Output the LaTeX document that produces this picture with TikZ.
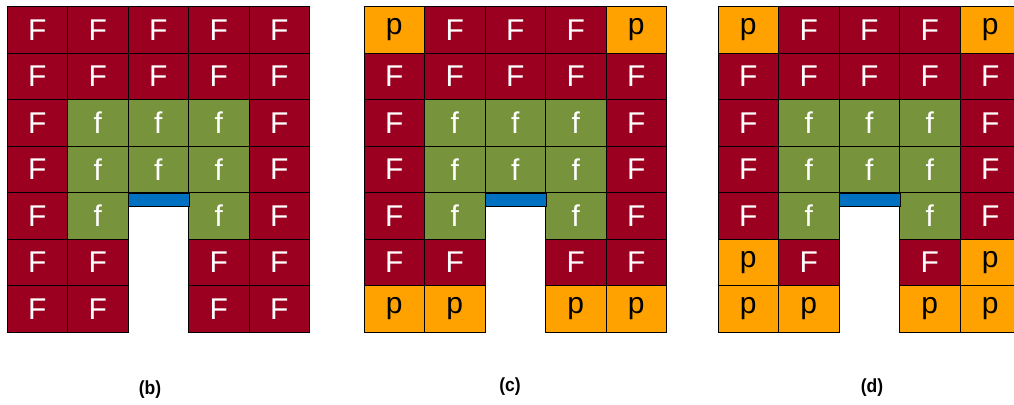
\documentclass[tikz,border=0pt]{standalone}
\usepackage{fontspec}
\setmainfont{Liberation Sans}
\newfontfamily\capfont{Liberation Sans}[FakeStretch=0.92]
\definecolor{cellred}{HTML}{9B0020}
\definecolor{cellgreen}{HTML}{77933C}
\definecolor{cellorange}{HTML}{FFA200}
\definecolor{gapblue}{HTML}{0070C0}

% one square of a grid: grid name, left edge, column, row, letter (x = no square)
\newcommand\putcell[5]{%
 \if#5x\else
  \node[cell#5] (#1_#4_#3) at ({#2+(#3-0.5)*60.5},{6.5+(#4-0.5)*46.5}) {#5};
 \fi}

\begin{document}
\begin{tikzpicture}[x=1pt,y=-1pt,
  cell/.style={draw=black,line width=0.9pt,inner sep=0pt,
    minimum width=60.5pt,minimum height=46.5pt,
    font=\fontsize{30}{30}\selectfont},
  cellF/.style={cell,fill=cellred,text=white},
  cellf/.style={cell,fill=cellgreen,text=white},
  cellp/.style={cell,fill=cellorange,text=black},
  gapbar/.style={draw=black,line width=0.9pt,fill=gapblue,inner sep=0pt,
    minimum width=60.5pt,minimum height=13pt,anchor=north west},
  caption/.style={font=\capfont\bfseries\fontsize{19}{19}\selectfont}]
 \clip (0,0) rectangle (1014,404);

 % (b)
 \foreach \row [count=\r] in {{F,F,F,F,F},{F,F,F,F,F},{F,f,f,f,F},{F,f,f,f,F},
   {F,f,x,f,F},{F,F,x,F,F},{F,F,x,F,F}}
  \foreach \c [count=\k] in \row {\putcell{b}{7}{\k}{\r}{\c}}
 \node[gapbar] (b_gap) at (128,192.5) {};

 % (c)
 \foreach \row [count=\r] in {{p,F,F,F,p},{F,F,F,F,F},{F,f,f,f,F},{F,f,f,f,F},
   {F,f,x,f,F},{F,F,x,F,F},{p,p,x,p,p}}
  \foreach \c [count=\k] in \row {\putcell{c}{364}{\k}{\r}{\c}}
 \node[gapbar] (c_gap) at (485,192.5) {};

 % (d)
 \foreach \row [count=\r] in {{p,F,F,F,p},{F,F,F,F,F},{F,f,f,f,F},{F,f,f,f,F},
   {F,f,x,f,F},{p,F,x,F,p},{p,p,x,p,p}}
  \foreach \c [count=\k] in \row {\putcell{d}{718}{\k}{\r}{\c}}
 \node[gapbar] (d_gap) at (839,192.5) {};

 \node[caption] (cap_b) at (150,390) {(b)};
 \node[caption] (cap_c) at (510,387) {(c)};
 \node[caption] (cap_d) at (872,388) {(d)};
\end{tikzpicture}
\end{document}
